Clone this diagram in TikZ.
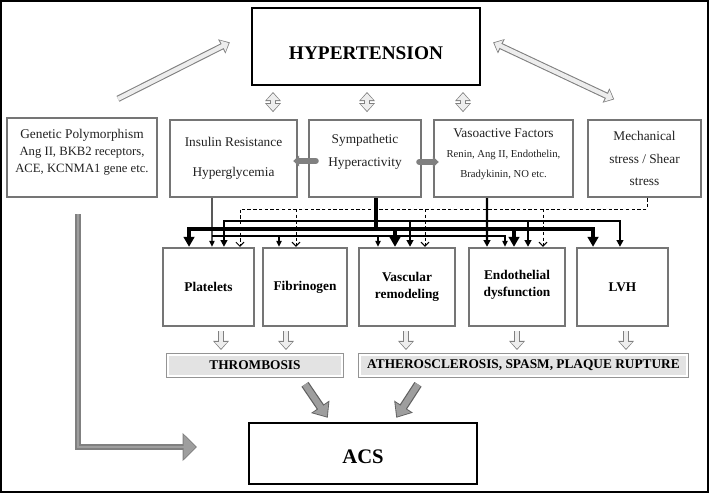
\documentclass[tikz,border=0pt]{standalone}
\usepackage{fontspec}
\setmainfont{Liberation Serif}
\usepackage{tikz}
\usetikzlibrary{arrows.meta}
\definecolor{wwwwww}{rgb}{0.46,0.46,0.46}
\definecolor{sqsqsq}{rgb}{0.13,0.13,0.13}
\definecolor{cqcqcq}{rgb}{0.89,0.89,0.89}
\definecolor{zzzzzz}{rgb}{0.58,0.58,0.58}
\definecolor{xdxdxd}{rgb}{0.5,0.5,0.5}
\definecolor{efefef}{rgb}{0.93,0.93,0.93}
\definecolor{bcbcbc}{rgb}{0.62,0.62,0.62}
\definecolor{uququq}{rgb}{0.38,0.38,0.38}
\tikzset{
	mainbox/.style={draw=black, line width=2pt, minimum width=171pt, inner sep=0pt, text depth=0pt},
	factor/.style={draw=wwwwww, line width=1.8pt, text=sqsqsq, align=center, inner sep=0pt, minimum height=57.75pt},
	effect/.style={draw=wwwwww, line width=1.8pt, align=center, inner sep=0pt, minimum height=58.5pt, font=\fontsize{10}{12.75}\selectfont\bfseries},
	outcome/.style={fill=cqcqcq, draw=white, line width=1.9pt, preaction={draw=zzzzzz, line width=2.9pt}, minimum height=15.85pt, inner sep=0pt, font=\fontsize{10}{12}\selectfont\bfseries},
	lnthin/.style={line width=0.9pt, >={Triangle[length=4.5pt,width=4pt]}},
	lnmed/.style={line width=1.6pt, >={Triangle[length=5pt,width=5pt]}},
	lnthick/.style={line width=3pt, >={Triangle[length=7.5pt,width=8pt]}},
	lndash/.style={line width=0.7pt, dash pattern=on 2.5pt off 1.8pt, >={Straight Barb[length=3pt,width=6pt]}},
	hollowarr/.style={line width=3.2pt, draw=efefef, -{Triangle[length=5pt,width=9pt]},
		preaction={draw=xdxdxd, line width=4.8pt, -{Triangle[length=6.8pt,width=11.5pt]}, shorten >=-1pt}},
	hollowdbl/.style={line width=3.2pt, draw=efefef, {Triangle[length=5pt,width=9pt]}-{Triangle[length=5pt,width=9pt]},
		preaction={draw=xdxdxd, line width=4.8pt, {Triangle[length=6.8pt,width=11.5pt]}-{Triangle[length=6.8pt,width=11.5pt]}, shorten <=-1pt, shorten >=-1pt}},
	grayarr/.style={line width=4.5pt, draw=xdxdxd, line cap=round, -{Triangle[length=4.5pt,width=8pt]}},
	bigarr/.style={line width=4.6pt, draw=bcbcbc, -{Triangle[length=8.3pt,width=13.2pt]},
		preaction={draw=uququq, line width=6.4pt, -{Triangle[length=10pt,width=16pt]}, shorten >=-1pt}},
	larr/.style={line width=2.2pt, draw=bcbcbc, -{Triangle[length=9pt,width=17.5pt]},
		preaction={draw=xdxdxd, line width=3.8pt, -{Triangle[length=10.8pt,width=20.5pt]}, shorten >=-1pt}}
}

\begin{document}
\begin{tikzpicture}[x=0.75pt,y=-0.75pt]
	\useasboundingbox (0,0) rectangle (709,493);
	\draw [line width=1.5pt] (1,1) rectangle (708,492);
	\node[mainbox, minimum height=57.75pt, text height=20pt, font=\fontsize{14.5}{17}\selectfont\bfseries] (hyp) at (366,46.5) {HYPERTENSION};
	\node[factor, minimum width=112.5pt, minimum height=59.25pt, font=\fontsize{10}{12.75}\selectfont, text depth=10pt] (gen) at (82,157.5) {Genetic Polymorphism\\{\fontsize{9.5}{12}\selectfont Ang II, BKB2 receptors,}\\{\fontsize{9.5}{12}\selectfont ACE, KCNMA1 gene etc.}};
	\node[factor, minimum width=95.25pt, font=\fontsize{10}{22.5}\selectfont] (ins) at (233.5,158.5) {Insulin Resistance\\Hyperglycemia};
	\node[factor, minimum width=84pt, font=\fontsize{10}{17.25}\selectfont, text depth=12.7pt] (sym) at (365,158.5) {Sympathetic\\Hyperactivity};
	\node[factor, minimum width=104.25pt, font=\fontsize{10}{15}\selectfont, text depth=7.8pt] (vas) at (503.5,158.5) {Vasoactive Factors\\{\fontsize{8}{10}\selectfont Renin, Ang II, Endothelin,}\\{\fontsize{8}{10}\selectfont Bradykinin, NO etc.}};
	\node[factor, minimum width=84.75pt, font=\fontsize{10}{17}\selectfont] (mech) at (644.5,158.5) {Mechanical\\stress / Shear\\stress};
	\node[effect, minimum width=68.25pt] (plt) at (208.5,287) {Platelets};
	\node[effect, minimum width=63pt] (fib) at (305,287) {Fibrinogen};
	\node[effect, minimum width=72pt] (vsc) at (407,287) {Vascular\\remodeling};
	\node[effect, minimum width=72pt, text depth=5.2pt] (endo) at (517,287) {Endothelial\\dysfunction};
	\node[effect, minimum width=68.25pt] (lvh) at (622.5,287) {LVH};
	\node[outcome, minimum width=130.6pt] (thr) at (255,365.5) {THROMBOSIS};
	\node[outcome, minimum width=245.3pt] (ath) at (523.5,365.5) {ATHEROSCLEROSIS, SPASM, PLAQUE RUPTURE};
	\node[mainbox, minimum height=45.75pt, text height=15pt, font=\fontsize{15.5}{18}\selectfont\bfseries] (acs) at (363,453.5) {ACS};
	\coordinate (bdash) at (0,209);
	\coordinate (bmed) at (0,221);
	\coordinate (bthick) at (0,229);
	\coordinate (bthin) at (0,236);
	\draw[hollowarr] ([shift={(36,-18)}]gen.north) -- ([shift={(-22,-3.5)}]hyp.west);
	\draw[hollowdbl] ([shift={(13,-3.5)}]hyp.east) -- ([shift={(-31.5,-20)}]mech.north);
	\draw[hollowdbl] ([shift={(-93,7)}]hyp.south) -- ([shift={(39.5,-8)}]ins.north);
	\draw[hollowdbl] ([shift={(1,7)}]hyp.south) -- ([shift={(2,-8)}]sym.north);
	\draw[hollowdbl] ([shift={(97,7)}]hyp.south) -- ([shift={(-40.5,-8)}]vas.north);
	\draw[grayarr] ([shift={(8,2.5)}]sym.west) -- ([shift={(-5,2.5)}]ins.east);
	\draw[grayarr] ([shift={(-3,3.5)}]sym.east) -- ([shift={(6,3.5)}]vas.west);
	\draw[lndash,->] ([xshift=1.9pt]mech.south) -- ([xshift=1.9pt]mech.south |- bdash) -- ([xshift=23.6pt]plt.north |- bdash) -- ([xshift=23.6pt]plt.north);
	\draw[lndash,->] ([xshift=-6.75pt]fib.north |- bdash) -- ([xshift=-6.75pt]fib.north);
	\draw[lndash,->] ([xshift=13.5pt]vsc.north |- bdash) -- ([xshift=13.5pt]vsc.north);
	\draw[lndash,->] ([xshift=19.5pt]endo.north |- bdash) -- ([xshift=19.5pt]endo.north);
	\draw[lnthin,->] ([xshift=-16.1pt]ins.south) -- ([xshift=2.6pt]plt.north);
	\draw[lnthin,->] ([xshift=2.6pt]plt.north |- bthin) -- ([xshift=-9pt]endo.north |- bthin) -- ([xshift=-9pt]endo.north);
	\draw[lnthin,->] ([xshift=-19.5pt]fib.north |- bthin) -- ([xshift=-19.5pt]fib.north);
	\draw[lnthin,->] ([xshift=-21.75pt]vsc.north |- bthin) -- ([xshift=-21.75pt]vsc.north);
	\draw[lnmed,->] ([xshift=-12.4pt]vas.south) -- ([xshift=-22.5pt]endo.north);
	\draw[lnmed,<->] ([xshift=11.6pt]plt.north) -- ([xshift=11.6pt]plt.north |- bmed) -- ([xshift=-1.9pt]lvh.north |- bmed) -- ([xshift=-1.9pt]lvh.north);
	\draw[lnmed,->] ([xshift=2.25pt]vsc.north |- bmed) -- ([xshift=2.25pt]vsc.north);
	\draw[lnmed,->] ([xshift=8.25pt]endo.north |- bmed) -- ([xshift=8.25pt]endo.north);
	\draw[lnthick] ([xshift=8.25pt]sym.south) -- ([xshift=8.25pt]sym.south |- bthick);
	\draw[lnthick,<->] ([xshift=-14.6pt]plt.north) -- ([xshift=-14.6pt]plt.north |- bthick) -- ([xshift=-22.1pt]lvh.north |- bthick) -- ([xshift=-22.1pt]lvh.north);
	\draw[lnthick,->] ([xshift=-9pt]vsc.north |- bthick) -- ([xshift=-9pt]vsc.north);
	\draw[lnthick,->] ([xshift=-2.25pt]endo.north |- bthick) -- ([xshift=-2.25pt]endo.north);
	\draw[hollowarr] ([shift={(12.5,4)}]plt.south) -- ([shift={(12.5,-5)}]plt.south |- thr.north);
	\draw[hollowarr] ([shift={(-19,4)}]fib.south) -- ([shift={(-19,-5)}]fib.south |- thr.north);
	\draw[hollowarr] ([shift={(-1,4)}]vsc.south) -- ([shift={(-1,-5)}]vsc.south |- ath.north);
	\draw[hollowarr] ([shift={(0,4)}]endo.south) -- ([shift={(0,-5)}]endo.south |- ath.north);
	\draw[hollowarr] ([shift={(3.5,4)}]lvh.south) -- ([shift={(3.5,-5)}]lvh.south |- ath.north);
	\draw[bigarr] ([shift={(50,7)}]thr.south) -- ([shift={(-36,-5)}]acs.north);
	\draw[bigarr] ([shift={(-105.5,7)}]ath.south) -- ([shift={(34,-5)}]acs.north);
	\draw[larr] ([shift={(-4,16)}]gen.south) |- ([shift={(-52,-6.5)}]acs.west);
\end{tikzpicture}
\end{document}
